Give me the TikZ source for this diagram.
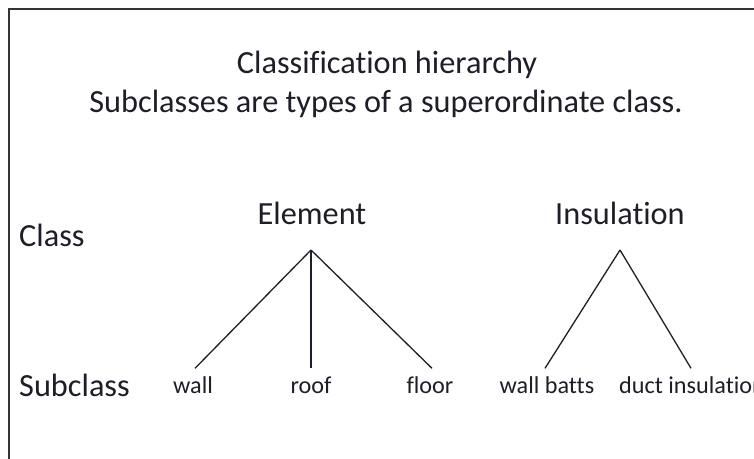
\documentclass[tikz,border=0pt]{standalone}
\usepackage{fontspec}
\setmainfont[Ligatures=CommonOff]{Carlito}
\definecolor{txt}{HTML}{1E1E28}
\definecolor{frame}{HTML}{333333}
\begin{document}
\begin{tikzpicture}[x=1pt,y=-1pt,
  big/.style={font=\fontsize{32.3}{34}\selectfont, text=txt, inner sep=0pt},
  leaf/.style={font=\fontsize{24.2}{26}\selectfont, text=txt, inner xsep=0pt, inner ysep=8pt},
  branch/.style={draw=txt, line width=1.3pt}]
\clip (0,0) rectangle (754,458);
\fill[white] (0,0) rectangle (754,458);
\draw[frame, line width=2pt] (9,470) -- (9,9) -- (770,9);
\node[big] (title) at (387,65) {Classification hierarchy};
\node[big] (sub) at (386,104) {Subclasses are types of a superordinate class.};
\node[big, anchor=west] (class) at (19,235) {Class};
\node[big, anchor=west] (subclass) at (19,385) {Subclass};
\node[big] (elem) at (312,213) {Element};
\node[big] (ins) at (620,213) {Insulation};
\coordinate (eTop) at (311,250);
\coordinate (iTop) at (620,250);
\node[leaf] (wall) at (193,385) {wall};
\node[leaf] (roof) at (311,385) {roof};
\node[leaf] (floor) at (430,385) {floor};
\node[leaf] (batts) at (547,385) {wall batts};
\node[leaf, anchor=west] (duct) at (619,385) {duct insulation};
\draw[branch] (eTop) -- ([xshift=2]wall.north);
\draw[branch] (eTop) -- (roof.north);
\draw[branch] (eTop) -- ([xshift=2]floor.north);
\draw[branch] (iTop) -- ([xshift=-2]batts.north);
\draw[branch] (iTop) -- ([xshift=72]duct.north west);
\end{tikzpicture}
\end{document}
